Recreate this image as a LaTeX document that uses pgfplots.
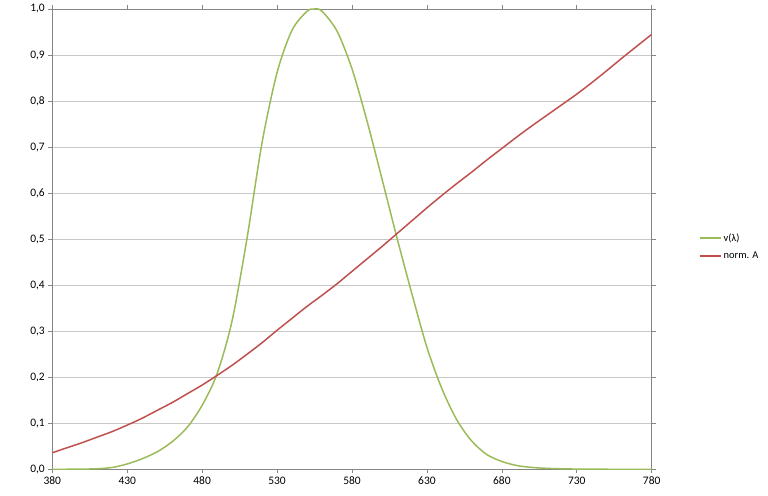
\documentclass[border=0pt]{standalone}
\usepackage{fontspec}
\setmainfont{Carlito}
\usepackage{pgfplots}
\pgfplotsset{compat=1.18}

\definecolor{vgreen}{RGB}{155,187,89}
\definecolor{normred}{RGB}{192,80,77}
\definecolor{axgray}{RGB}{134,134,134}
\definecolor{gridgray}{RGB}{200,200,200}

\begin{document}
\begin{tikzpicture}
\path[use as bounding box] (-52.3bp,-26.7bp) rectangle (715.7bp,469.3bp);
\begin{axis}[
  at={(0,0)}, anchor=south west,
  scale only axis,
  width=599.4bp, height=460.3bp,
  xmin=380, xmax=780, ymin=0, ymax=1,
  xtick={380,430,...,780},
  ytick={0,0.1,...,1.0},
  font=\fontsize{11.5}{13}\selectfont,
  /pgf/number format/assume math mode=true,
  /pgf/number format/use comma,
  yticklabel style={/pgf/number format/fixed,/pgf/number format/precision=1,/pgf/number format/fixed zerofill},
  xticklabel style={/pgf/number format/1000 sep={}},
  tick align=outside,
  major tick length=4bp,
  tick style={axgray, line width=0.6pt},
  axis line style={axgray, line width=0.6pt},
  ymajorgrids=true,
  grid style={gridgray, line width=0.6pt},
  legend style={draw=none, fill=none, at={(1.078,0.483)}, anchor=west,
    font=\fontsize{10.5}{12}\selectfont, row sep=5bp,
    inner sep=0pt},
  legend cell align=left,
  legend image code/.code={\draw[#1, line width=2pt] (0bp,0bp) -- (21bp,0bp);},
]
\addplot[vgreen, line width=1.5pt, smooth] coordinates {
(380,0.00004)(390,0.00012)(400,0.0004)(410,0.0012)(420,0.0040)
(430,0.0116)(440,0.023)(450,0.038)(460,0.060)(470,0.091)
(480,0.139)(490,0.208)(500,0.323)(510,0.503)(520,0.710)
(530,0.862)(540,0.954)(550,0.995)(555,1.000)(560,0.995)
(570,0.952)(580,0.870)(590,0.757)(600,0.631)(610,0.503)
(620,0.381)(630,0.265)(640,0.175)(650,0.107)(660,0.061)
(670,0.032)(680,0.017)(690,0.0082)(700,0.0041)(710,0.0021)
(720,0.00105)(730,0.00052)(740,0.00025)(750,0.00012)(760,0.00006)
(770,0.00003)(780,0.000015)};
\addlegendentry{v(λ)}
\addplot[normred, line width=1.5pt, smooth] coordinates {
(380,0.036)(390,0.047)(400,0.058)(410,0.070)(420,0.082)
(430,0.096)(440,0.111)(450,0.128)(460,0.145)(470,0.164)
(480,0.183)(490,0.204)(500,0.226)(510,0.250)(520,0.275)
(530,0.302)(540,0.328)(550,0.354)(560,0.378)(570,0.403)
(580,0.430)(590,0.457)(600,0.484)(610,0.512)(620,0.540)
(630,0.568)(640,0.595)(650,0.621)(660,0.646)(670,0.672)
(680,0.697)(690,0.722)(700,0.746)(710,0.769)(720,0.792)
(730,0.815)(740,0.840)(750,0.866)(760,0.893)(770,0.919)
(780,0.945)};
\addlegendentry{norm. A}
\end{axis}
\end{tikzpicture}
\end{document}
